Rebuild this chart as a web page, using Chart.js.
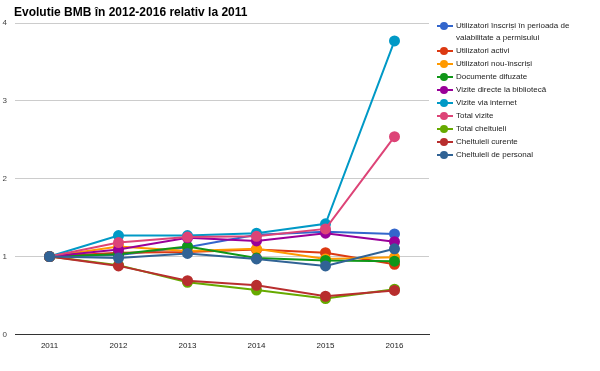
<!DOCTYPE html>
<html>
<head>
<meta charset="utf-8">
<script src="https://cdn.jsdelivr.net/npm/chart.js@4"></script>
<style>
  body { margin: 0; background: #fff; }
  #wrap { position: relative; width: 600px; height: 371px; }
  #title { position: absolute; left: 14px; top: 5px; font: bold 12px Arial, "Liberation Sans", sans-serif; color: #000; }
  #legend { position: absolute; left: 436px; top: 20px; font: 8px Arial, "Liberation Sans", sans-serif; color: #222; }
  .item { position: relative; padding-left: 20px; line-height: 12px; margin-bottom: 1px; }
  .item .mk { position: absolute; left: 1px; top: 5px; width: 16px; height: 2px; }
  .item .dot { position: absolute; left: 3px; top: -3px; width: 8px; height: 8px; border-radius: 50%; }
</style>
</head>
<body>
<div id="wrap">
  <canvas id="myChart" width="600" height="371"></canvas>
  <div id="title">Evolutie BMB în 2012-2016 relativ la 2011</div>
  <div id="legend"></div>
</div>
<script>
const years = ['2011', '2012', '2013', '2014', '2015', '2016'];

const seriesNames = [
	'Utilizatori înscriși în perioada de valabilitate a permisului',
	'Utilizatori activi',
	'Utilizatori nou-înscriși',
	'Documente difuzate',
	'Vizite directe la bibliotecă',
	'Vizite via internet',
	'Total vizite',
	'Total cheltuieli',
	'Cheltuieli curente',
	'Cheltuieli de personal'
];

const inscrisi = [1, 1.02, 1.12, 1.28, 1.32, 1.29];
const activi = [1, 1.05, 1.06, 1.09, 1.05, 0.90];
const nouInscrisi = [1, 1.13, 1.07, 1.10, 0.97, 0.99];
const documente = [1, 1.03, 1.13, 0.98, 0.95, 0.94];
const viziteDirecte = [1, 1.09, 1.24, 1.20, 1.30, 1.19];
const viziteInternet = [1, 1.27, 1.27, 1.30, 1.42, 3.77];
const totalVizite = [1, 1.18, 1.25, 1.26, 1.355, 2.54];
const totalCheltuieli = [1, 0.89, 0.67, 0.57, 0.46, 0.58];
const cheltuieliCurente = [1, 0.88, 0.69, 0.63, 0.49, 0.565];
const cheltuieliPersonal = [1, 0.98, 1.04, 0.97, 0.88, 1.10];

const yMin = 0, yMax = 4, yStep = 1;

const allSeries = [inscrisi, activi, nouInscrisi, documente, viziteDirecte,
	viziteInternet, totalVizite, totalCheltuieli, cheltuieliCurente, cheltuieliPersonal];
const colors = ['#3366cc', '#dc3912', '#ff9900', '#109618', '#990099',
	'#0099c6', '#dd4477', '#66aa00', '#b82e2e', '#316395'];

const datasets = allSeries.map((vals, i) => ({
	label: seriesNames[i],
	data: vals,
	borderColor: colors[i],
	backgroundColor: colors[i],
	borderWidth: 2,
	pointRadius: 4.5,
	pointHoverRadius: 5,
	tension: 0,
	order: allSeries.length - i
}));

// legend as html
const legend = document.getElementById('legend');
const legendText = seriesNames.slice();
legendText[0] = 'Utilizatori înscriși în perioada de<br>valabilitate a permisului';
legendText.forEach((t, i) => {
	const d = document.createElement('div');
	d.className = 'item';
	d.innerHTML = '<span class="mk" style="background:' + colors[i] + '"><span class="dot" style="background:' + colors[i] + '"></span></span>' + t;
	legend.appendChild(d);
});

const ctx = document.getElementById('myChart');

new Chart(ctx, {
	type: 'line',
	data: {
		labels: years,
		datasets: datasets
	},
	options: {
		responsive: false,
		animation: false,
		layout: {
			padding: { left: 0, right: 171, top: 23, bottom: 13 }
		},
		plugins: {
			legend: { display: false },
			tooltip: { enabled: false }
		},
		scales: {
			x: {
				offset: true,
				grid: { display: false, drawTicks: false },
				border: { display: true, color: '#333', width: 1 },
				ticks: {
					color: '#222',
					padding: 7,
					font: { family: 'Arial, "Liberation Sans", sans-serif', size: 8 }
				}
			},
			y: {
				min: yMin,
				max: yMax,
				afterFit: (scale) => { scale.width = 15; },
				grid: { color: '#cccccc', drawTicks: false },
				border: { display: false },
				ticks: {
					stepSize: yStep,
					color: '#444',
					padding: 8,
					font: { family: 'Arial, "Liberation Sans", sans-serif', size: 8 }
				}
			}
		}
	}
});
</script>
</body>
</html>
